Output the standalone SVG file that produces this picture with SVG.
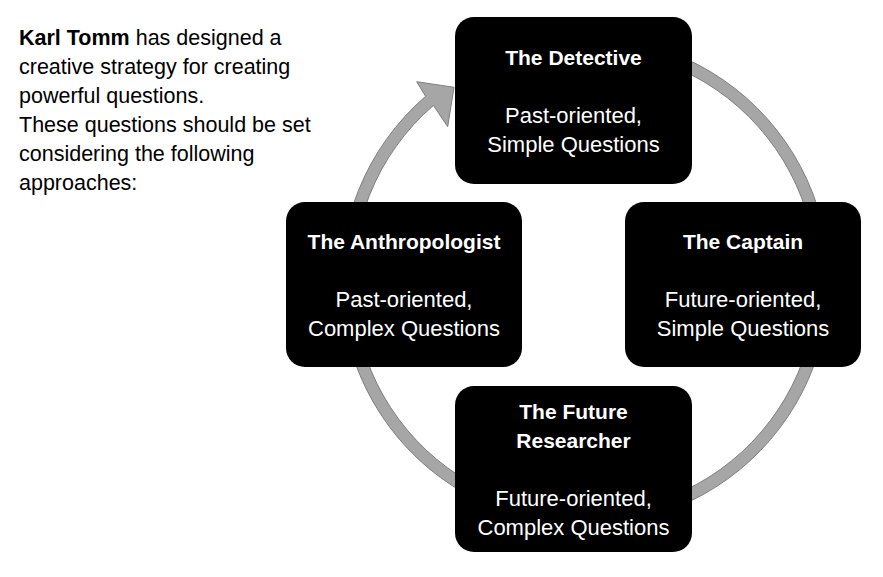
<svg xmlns="http://www.w3.org/2000/svg" width="883" height="577" viewBox="0 0 883 577">
<style>
.box{fill:#000000;}
.t{font-family:"Liberation Sans",Arial,sans-serif;font-size:22px;fill:#ffffff;text-anchor:middle;}
.b{font-weight:bold;font-size:21px;}
.lt{font-family:"Liberation Sans",Arial,sans-serif;font-size:21.5px;fill:#000000;}
.ring{fill:#a6a6a6;stroke:#7f7f7f;stroke-width:1;}
</style>
<rect width="883" height="577" fill="#ffffff"/>
<g id="intro">
<text class="lt" x="19" y="45"><tspan font-weight="bold">Karl Tomm</tspan> has designed a</text>
<text class="lt" x="19" y="74">creative strategy for creating</text>
<text class="lt" x="19" y="103">powerful questions.</text>
<text class="lt" x="19" y="132">These questions should be set</text>
<text class="lt" x="19" y="161">considering the following</text>
<text class="lt" x="19" y="190">approaches:</text>
</g>
<g id="connectors">
<path class="ring" d="M 542.63 40.71 A 244 244 0 1 1 425.6 96.3 L 416.7 81.7 L 454 87.3 L 447.7 126.7 L 433.4 105.4 A 232 232 0 1 0 544.71 52.52 Z"/>
</g>
<g id="detective">
<rect class="box" x="455" y="17" width="237" height="167" rx="19"/>
<text class="t b" x="573.5" y="65">The Detective</text>
<text class="t" x="573.5" y="123">Past-oriented,</text>
<text class="t" x="573.5" y="152">Simple Questions</text>
</g>
<g id="captain">
<rect class="box" x="625" y="202" width="236" height="165" rx="19"/>
<text class="t b" x="743" y="249">The Captain</text>
<text class="t" x="743" y="307">Future-oriented,</text>
<text class="t" x="743" y="336">Simple Questions</text>
</g>
<g id="anthropologist">
<rect class="box" x="286" y="202" width="236" height="165" rx="19"/>
<text class="t b" x="404" y="249">The Anthropologist</text>
<text class="t" x="404" y="307">Past-oriented,</text>
<text class="t" x="404" y="336">Complex Questions</text>
</g>
<g id="researcher">
<rect class="box" x="455" y="386" width="237" height="166" rx="19"/>
<text class="t b" x="573.5" y="419">The Future</text>
<text class="t b" x="573.5" y="448">Researcher</text>
<text class="t" x="573.5" y="506">Future-oriented,</text>
<text class="t" x="573.5" y="535">Complex Questions</text>
</g>
</svg>
